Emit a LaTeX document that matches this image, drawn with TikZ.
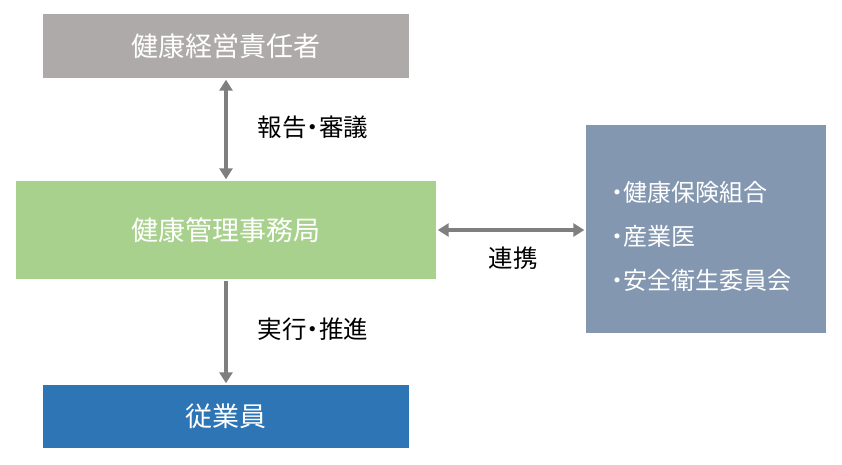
\documentclass[tikz,border=0pt]{standalone}
\usepackage{fontspec}
\setmainfont{Noto Sans CJK JP}[RawFeature=+palt]
\usetikzlibrary{
    arrows.meta,
    calc
}
\definecolor{bossgray}{HTML}{AEAAAA}
\definecolor{officegreen}{HTML}{A9D18E}
\definecolor{staffblue}{HTML}{2E75B6}
\definecolor{partnerblue}{HTML}{8497B0}
\definecolor{arrowgray}{HTML}{7F7F7F}
\tikzset{
  box/.style={
    inner sep=0pt,
    text=white,
    font=\fontsize{27}{31}\selectfont
  },
  lbl/.style={
    inner sep=0pt,
    font=\fontsize{24.5}{28}\selectfont
  },
  item/.style={
    anchor=west,
    inner sep=0pt,
    text=white,
    font=\fontsize{24}{28}\selectfont
  },
  link/.style={
    arrowgray,
    line width=4pt,
    shorten <=1.5pt,
    shorten >=1.5pt
  },
  both/.style={
    {Triangle[width=13pt,length=11pt]}-{Triangle[width=13pt,length=11pt]}
  },
  oneway/.style={
    -{Triangle[width=13pt,length=11pt]}
  }
}

\begin{document}
\begin{tikzpicture}[x=1pt,y=-1pt]
    \useasboundingbox (0,0) rectangle (842,464);
    %-------------------------
    % boxes
    %-------------------------
    \node[box,fill=bossgray,minimum width=366pt,minimum height=64pt] (boss) at (226,46) {健康経営責任者};
    \node[box,fill=officegreen,minimum width=420pt,minimum height=98pt] (office) at (226,230) {健康管理事務局};
    \node[box,fill=staffblue,minimum width=366pt,minimum height=63pt] (staff) at (226,416.5) {従業員};
    \node[box,fill=partnerblue,minimum width=240pt,minimum height=208pt] (partner) at (706,229) {};

    \node[item] (kenpo) at (611,192) {・健康保険組合};
    \node[item] (sangyoi) at (611,236) {・産業医};
    \node[item] (eisei) at (611,280) {・安全衛生委員会};

    %-------------------------
    % arrows
    %-------------------------
    \draw[link,both] (boss.south) -- (office.north);
    \draw[link,oneway] (office.south) -- (staff.north);
    \draw[link,both] (office.east) -- (partner.west |- office.east);

    \node[lbl] (report) at (313,127) {報告・審議};
    \node[lbl] (exec) at (313,329) {実行・推進};
    \node[lbl] (coop) at (513,258) {連携};

\end{tikzpicture}
\end{document}
